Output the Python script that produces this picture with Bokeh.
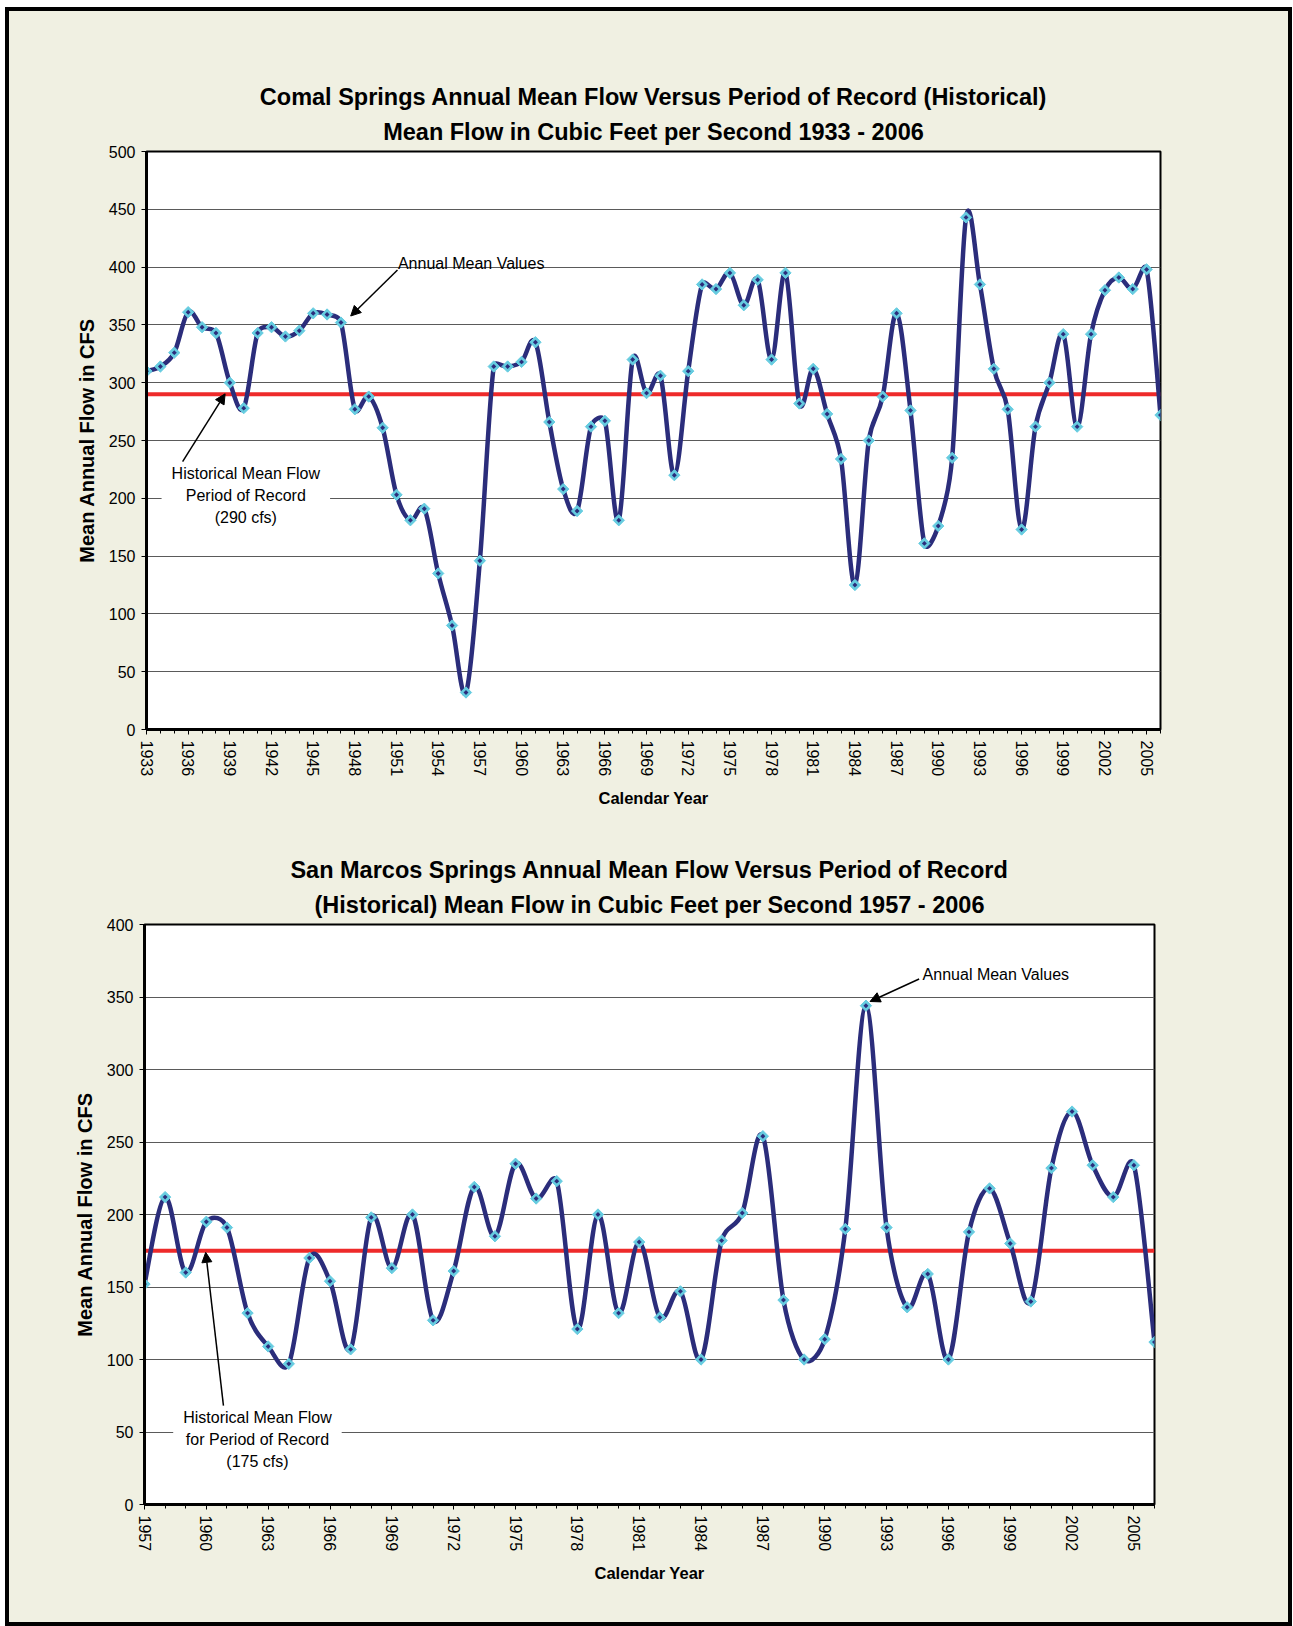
import math
from bokeh.plotting import figure
from bokeh.models import FixedTicker, Label, Arrow, NormalHead, Range1d, Title
from bokeh.layouts import column
from bokeh.embed import file_html
from bokeh.resources import INLINE

# ---------------- data ----------------
comal_years = list(range(1933, 2007))
comal_flow = [310, 314, 326, 361, 348, 343, 300, 278, 343, 348,
              340, 345, 360, 359, 352, 277, 288, 261, 203, 181,
              191, 135, 90, 32, 146, 314, 314, 318, 335, 266,
              208, 189, 262, 267, 181, 320, 291, 306, 220, 310,
              385, 381, 395, 367, 389, 320, 395, 282, 312, 273,
              234, 125, 250, 288, 360, 276, 161, 176, 235, 443,
              385, 312, 277, 173, 262, 300, 342, 262, 342, 380,
              391, 381, 398, 272]
comal_mean = 290

sanmarcos_years = list(range(1957, 2007))
sanmarcos_flow = [152, 212, 160, 195, 191, 132, 109, 97, 170, 154,
                  107, 198, 163, 200, 127, 161, 219, 185, 235, 211,
                  223, 121, 200, 132, 181, 129, 147, 100, 182, 201,
                  254, 141, 100, 114, 190, 344, 191, 136, 159, 100,
                  188, 218, 180, 140, 232, 271, 234, 212, 234, 112]
sanmarcos_mean = 175

comal_title = ["Comal Springs Annual Mean Flow Versus Period of Record (Historical)",
               "Mean Flow in Cubic Feet per Second 1933 - 2006"]
sanmarcos_title = ["San Marcos Springs Annual Mean Flow Versus Period of Record",
                   "(Historical) Mean Flow in Cubic Feet per Second 1957 - 2006"]

# ---------------- style ----------------
BEIGE = "#f0f0e2"
NAVY = "#2b2d7b"
CYAN = "#66cce0"
RED = "#ee2a2a"
FONT = "Liberation Sans"
FIG_W = 1279


def smooth_segments(x, y, sx, sy):
    """Excel-like smoothed line: Bezier segments with 1/6 tension, arms capped
    at half the segment length (computed in screen pixels, sx/sy px per unit)."""
    n = len(x)
    X = [v * sx for v in x]
    Y = [v * sy for v in y]
    out = dict(x0=[], y0=[], x1=[], y1=[], cx0=[], cy0=[], cx1=[], cy1=[])
    for i in range(n - 1):
        a = i - 1 if i > 0 else i
        d = i + 2 if i + 2 < n else i + 1
        seg = math.hypot(X[i + 1] - X[i], Y[i + 1] - Y[i])
        v1x, v1y = X[i + 1] - X[a], Y[i + 1] - Y[a]
        L1 = math.hypot(v1x, v1y) or 1.0
        k1 = min(L1 / 6.0, seg / 2.0) / L1
        v2x, v2y = X[d] - X[i], Y[d] - Y[i]
        L2 = math.hypot(v2x, v2y) or 1.0
        k2 = min(L2 / 6.0, seg / 2.0) / L2
        out["x0"].append(x[i]); out["y0"].append(y[i])
        out["x1"].append(x[i + 1]); out["y1"].append(y[i + 1])
        out["cx0"].append((X[i] + k1 * v1x) / sx)
        out["cy0"].append((Y[i] + k1 * v1y) / sy)
        out["cx1"].append((X[i + 1] - k2 * v2x) / sx)
        out["cy1"].append((Y[i + 1] - k2 * v2y) / sy)
    return out


def make_fig(years, flows, mean, ymax, titles, height, borders, title_offset):
    bl, br, bt, bb = borders
    p = figure(width=FIG_W, height=height, output_backend="svg", toolbar_location=None,
               x_range=Range1d(years[0], years[-1]), y_range=Range1d(0, ymax),
               min_border_left=bl, min_border_right=br, min_border_top=bt,
               min_border_bottom=bb, title=None)
    p.frame_align = False
    p.background_fill_color = "white"
    p.border_fill_color = BEIGE
    p.outline_line_color = "black"
    p.outline_line_width = 2

    # two centred title lines (first added = nearest the frame)
    p.add_layout(Title(text=titles[1], align="center", text_font=FONT, text_font_size="23.5px",
                       text_font_style="bold", text_color="black", standoff=14,
                       offset=title_offset), "above")
    p.add_layout(Title(text=titles[0], align="center", text_font=FONT, text_font_size="23.5px",
                       text_font_style="bold", text_color="black", standoff=0,
                       offset=title_offset), "above")

    p.xgrid.visible = False
    p.ygrid.grid_line_color = "#5a5a5a"
    p.ygrid.grid_line_width = 1

    p.yaxis.ticker = FixedTicker(ticks=list(range(0, ymax + 1, 50)))
    p.xaxis.ticker = FixedTicker(ticks=list(range(years[0], years[-1] + 1, 3)),
                                 minor_ticks=years)
    for ax in (p.xaxis, p.yaxis):
        ax.axis_line_color = "black"
        ax.axis_line_width = 3
        ax.major_tick_line_color = "black"
        ax.major_tick_in = 0
        ax.major_tick_out = 5
        ax.minor_tick_in = 0
        ax.minor_tick_out = 4
        ax.minor_tick_line_color = "black"
        ax.major_label_text_font = FONT
        ax.major_label_text_font_size = "16px"
        ax.major_label_text_color = "black"
        ax.axis_label_text_font = FONT
        ax.axis_label_text_font_style = "bold"
        ax.axis_label_text_color = "black"
    p.yaxis.minor_tick_line_color = None
    p.yaxis.major_label_standoff = 6
    p.xaxis.major_label_standoff = 6
    p.xaxis.major_label_orientation = "vertical"
    p.yaxis.axis_label = "Mean Annual Flow in CFS"
    p.yaxis.axis_label_text_font_size = "20px"
    p.yaxis.axis_label_standoff = 8
    p.xaxis.axis_label = "Calendar Year"
    p.xaxis.axis_label_text_font_size = "16.5px"
    p.xaxis.axis_label_standoff = 10

    # pixel scale of the frame (used only for the curve's smoothing shape)
    frame_w = FIG_W - bl - br
    frame_h = height - bt - bb
    sx = frame_w / (years[-1] - years[0])
    sy = frame_h / ymax

    # mean line
    p.line([years[0], years[-1]], [mean, mean], line_color=RED, line_width=4)
    # smoothed series
    seg = smooth_segments(years, flows, sx, sy)
    p.bezier(x0=seg["x0"], y0=seg["y0"], x1=seg["x1"], y1=seg["y1"],
             cx0=seg["cx0"], cy0=seg["cy0"], cx1=seg["cx1"], cy1=seg["cy1"],
             line_color=NAVY, line_width=4.5, line_cap="round")
    p.scatter(years, flows, marker="square", angle=math.pi / 4, size=8,
              fill_color=CYAN, line_color=CYAN, line_width=1)
    p.scatter(years, flows, marker="square", angle=math.pi / 4, size=3.5,
              fill_color=NAVY, line_color=None)
    return p


p1 = make_fig(comal_years, comal_flow, comal_mean, 500, comal_title, 820,
              (137, 128, 140, 102), -6)
p1.add_layout(Label(x=1951.1, y=403.4, text="Annual Mean Values", text_font=FONT,
                    text_font_size="16px", text_align="left", text_baseline="middle",
                    text_color="black"))
p1.add_layout(Arrow(end=NormalHead(size=10, fill_color="black", line_color="black"),
                    x_start=1951.07, y_start=397.5, x_end=1947.7, y_end=357.7,
                    line_width=1.5, line_color="black"))
p1.add_layout(Label(x=1940.15, y=202.7,
                    text="Historical Mean Flow\nPeriod of Record\n(290 cfs)",
                    text_font=FONT, text_font_size="16px", text_align="center",
                    text_baseline="middle", text_color="black",
                    background_fill_color="white", padding=10, text_line_height=1.3))
p1.add_layout(Arrow(end=NormalHead(size=10, fill_color="black", line_color="black"),
                    x_start=1935.6, y_start=231.8, x_end=1938.66, y_end=290.4,
                    line_width=1.5, line_color="black"))

p2 = make_fig(sanmarcos_years, sanmarcos_flow, sanmarcos_mean, 400, sanmarcos_title, 791,
              (135, 134, 93, 118), 0)
p2.add_layout(Label(x=1994.75, y=365.7, text="Annual Mean Values", text_font=FONT,
                    text_font_size="16px", text_align="left", text_baseline="middle",
                    text_color="black"))
p2.add_layout(Arrow(end=NormalHead(size=10, fill_color="black", line_color="black"),
                    x_start=1994.58, y_start=362.4, x_end=1992.2, y_end=346.9,
                    line_width=1.5, line_color="black"))
p2.add_layout(Label(x=1962.48, y=45.0,
                    text="Historical Mean Flow\nfor Period of Record\n(175 cfs)",
                    text_font=FONT, text_font_size="16px", text_align="center",
                    text_baseline="middle", text_color="black",
                    background_fill_color="white", padding=10, text_line_height=1.3))
p2.add_layout(Arrow(end=NormalHead(size=10, fill_color="black", line_color="black"),
                    x_start=1960.83, y_start=68.2, x_end=1959.97, y_end=173.9,
                    line_width=1.5, line_color="black"))

layout = column(p1, p2, styles={"border": "4px solid black", "background-color": BEIGE,
                                "margin-left": "5px", "margin-top": "7px"})

open("out.html", "w").write(file_html(layout, INLINE))
